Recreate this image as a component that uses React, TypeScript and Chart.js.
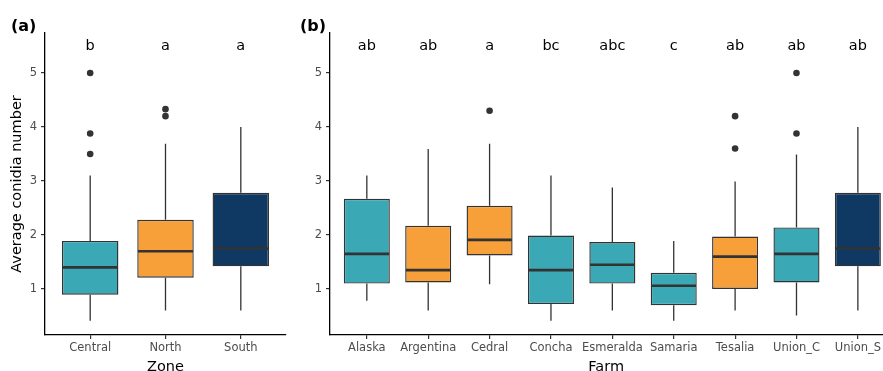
import React, { useEffect, useRef } from 'react';
import { Chart, registerables } from 'chart.js';
Chart.register(...registerables);

const TEAL = '#3AA9B5';
const ORANGE = '#F79F39';
const NAVY = '#0F3962';
const FONT = '"DejaVu Sans", "Liberation Sans", Arial, sans-serif';

// Panel (a): Zone
const zones = ['Central', 'North', 'South'];
const zoneLow = [0.41, 0.6, 0.6];
const zoneQ1 = [0.895, 1.21, 1.42];
const zoneMed = [1.4, 1.7, 1.75];
const zoneQ3 = [1.89, 2.28, 2.78];
const zoneHigh = [3.1, 3.69, 4.0];
const zoneOutliers = [[5.0, 3.88, 3.5], [4.33, 4.2], []];
const zoneLetters = ['b', 'a', 'a'];
const zoneColors = [TEAL, ORANGE, NAVY];

// Panel (b): Farm
const farms = ['Alaska', 'Argentina', 'Cedral', 'Concha', 'Esmeralda', 'Samaria', 'Tesalia', 'Union_C', 'Union_S'];
const farmLow = [0.78, 0.6, 1.09, 0.41, 0.6, 0.41, 0.6, 0.51, 0.6];
const farmQ1 = [1.1, 1.12, 1.62, 0.72, 1.1, 0.7, 1.0, 1.12, 1.42];
const farmMed = [1.65, 1.35, 1.91, 1.35, 1.45, 1.06, 1.6, 1.65, 1.75];
const farmQ3 = [2.67, 2.17, 2.54, 1.99, 1.87, 1.3, 1.97, 2.14, 2.78];
const farmHigh = [3.1, 3.59, 3.69, 3.1, 2.88, 1.89, 2.99, 3.49, 4.0];
const farmOutliers = [[], [], [4.3], [], [], [], [4.2, 3.6], [5.0, 3.88], []];
const farmLetters = ['ab', 'ab', 'a', 'bc', 'abc', 'c', 'ab', 'ab', 'ab'];
const farmColors = [TEAL, ORANGE, ORANGE, TEAL, TEAL, TEAL, ORANGE, TEAL, NAVY];

const yTickValues = [1, 2, 3, 4, 5];
const Y_MIN = 0.148;
const Y_MAX = 5.74;
const LETTER_Y = 5.5;

const CANVAS_H = 380;
const PLOT_TOP = 33;
const PLOT_BOTTOM = 335;

type PanelProps = {
  cats: string[];
  low: number[];
  q1: number[];
  med: number[];
  q3: number[];
  high: number[];
  outliers: number[][];
  letters: string[];
  colors: string[];
  xTitle: string;
  yTitle?: string;
  xMax: number;
  yWidth: number;
  rightPad: number;
  width: number;
};

function Panel(p: PanelProps) {
  const ref = useRef<HTMLCanvasElement | null>(null);
  useEffect(() => {
    if (!ref.current) return;
    const boxPlugin = {
      id: 'boxExtras',
      beforeDatasetsDraw(chart: any) {
        const { ctx, scales } = chart;
        const xs = scales.x, ys = scales.y;
        ctx.save();
        ctx.strokeStyle = '#333333';
        ctx.lineWidth = 1.3;
        p.cats.forEach((_, i) => {
          const x = xs.getPixelForValue(i);
          ctx.beginPath();
          ctx.moveTo(x, ys.getPixelForValue(p.high[i]));
          ctx.lineTo(x, ys.getPixelForValue(p.q3[i]));
          ctx.moveTo(x, ys.getPixelForValue(p.q1[i]));
          ctx.lineTo(x, ys.getPixelForValue(p.low[i]));
          ctx.stroke();
        });
        ctx.restore();
      },
      afterDatasetsDraw(chart: any) {
        const { ctx, scales } = chart;
        const xs = scales.x, ys = scales.y;
        const meta = chart.getDatasetMeta(0);
        ctx.save();
        ctx.strokeStyle = '#333333';
        ctx.lineWidth = 2.6;
        p.cats.forEach((_, i) => {
          const el: any = meta.data[i];
          const half = el.width / 2;
          const y = ys.getPixelForValue(p.med[i]);
          ctx.beginPath();
          ctx.moveTo(el.x - half + 0.7, y);
          ctx.lineTo(el.x + half - 0.7, y);
          ctx.stroke();
        });
        ctx.fillStyle = '#000000';
        ctx.font = `14.5px ${FONT}`;
        ctx.textAlign = 'center';
        ctx.textBaseline = 'middle';
        p.cats.forEach((_, i) => {
          ctx.fillText(p.letters[i], xs.getPixelForValue(i), ys.getPixelForValue(LETTER_Y));
        });
        ctx.restore();
      },
    };

    const tickFont = { size: 11.5, family: FONT };
    const chart = new Chart(ref.current, {
      type: 'bar',
      data: {
        datasets: [
          {
            type: 'bar',
            data: p.cats.map((_, i) => ({ x: i, y: [p.q1[i], p.q3[i]] })) as any,
            backgroundColor: p.colors,
            borderColor: '#333333',
            borderWidth: 1.4,
            borderSkipped: false,
            barPercentage: 0.75,
            categoryPercentage: 1,
            order: 2,
          } as any,
          {
            type: 'scatter',
            data: p.outliers.flatMap((arr, i) => arr.map((v) => ({ x: i, y: v }))),
            pointRadius: 3.3,
            pointBackgroundColor: '#333333',
            pointBorderWidth: 0,
            order: 1,
          } as any,
        ],
      },
      options: {
        animation: false,
        responsive: false,
        maintainAspectRatio: false,
        layout: { autoPadding: false, padding: { top: PLOT_TOP, right: p.rightPad, left: 0, bottom: 0 } } as any,
        plugins: { legend: { display: false }, tooltip: { enabled: false } },
        scales: {
          x: {
            type: 'linear',
            offset: false,
            min: -0.6,
            max: p.xMax,
            afterBuildTicks: (s: any) => {
              s.ticks = p.cats.map((_, i) => ({ value: i }));
            },
            afterFit: (s: any) => {
              s.height = CANVAS_H - PLOT_BOTTOM;
            },
            ticks: {
              autoSkip: false,
              maxRotation: 0,
              color: '#4D4D4D',
              font: tickFont,
              padding: 2,
              callback: (v: any) => p.cats[v as number],
            },
            grid: { offset: false, drawOnChartArea: false, drawTicks: true, tickLength: 4, color: '#333333', lineWidth: 1.2 },
            border: { display: true, color: '#000000', width: 1.3 },
            title: {
              display: true,
              text: p.xTitle,
              color: '#000000',
              font: { size: 14.5, family: FONT, lineHeight: 1 },
              padding: { top: 0, bottom: 5.5 },
            },
          },
          y: {
            type: 'linear',
            min: Y_MIN,
            max: Y_MAX,
            afterBuildTicks: (s: any) => {
              s.ticks = yTickValues.map((v) => ({ value: v }));
            },
            afterFit: (s: any) => {
              s.width = p.yWidth;
            },
            ticks: { color: '#4D4D4D', font: tickFont, padding: 4 },
            grid: { drawOnChartArea: false, drawTicks: true, tickLength: 4, color: '#333333', lineWidth: 1.2 },
            border: { display: true, color: '#000000', width: 1.3 },
            title: {
              display: !!p.yTitle,
              text: p.yTitle || '',
              color: '#000000',
              font: { size: 14.5, family: FONT, lineHeight: 1 },
              padding: { top: 9.5, bottom: 0 },
            },
          },
        },
      } as any,
      plugins: [boxPlugin],
    });
    return () => chart.destroy();
  }, []);
  return <canvas ref={ref} width={p.width} height={CANVAS_H} style={{ width: p.width, height: CANVAS_H, display: 'block' }} />;
}

const labelStyle: React.CSSProperties = {
  position: 'absolute',
  fontFamily: FONT,
  fontWeight: 'bold',
  fontSize: 16,
  color: '#000',
  lineHeight: '16px',
};

export default function App() {
  return (
    <div style={{ position: 'fixed', left: 0, top: 0, width: 883, height: 371, overflow: 'hidden', background: '#fff' }}>
      <div style={{ position: 'absolute', left: 0, top: 0 }}>
        <Panel
          cats={zones}
          low={zoneLow}
          q1={zoneQ1}
          med={zoneMed}
          q3={zoneQ3}
          high={zoneHigh}
          outliers={zoneOutliers}
          letters={zoneLetters}
          colors={zoneColors}
          xTitle="Zone"
          yTitle="Average conidia number"
          xMax={2.6}
          yWidth={45}
          rightPad={4}
          width={290}
        />
      </div>
      <div style={{ position: 'absolute', left: 290, top: 0 }}>
        <Panel
          cats={farms}
          low={farmLow}
          q1={farmQ1}
          med={farmMed}
          q3={farmQ3}
          high={farmHigh}
          outliers={farmOutliers}
          letters={farmLetters}
          colors={farmColors}
          xTitle="Farm"
          xMax={8.4}
          yWidth={40}
          rightPad={0}
          width={593}
        />
      </div>
      <div style={{ ...labelStyle, left: 11, top: 18 }}>(a)</div>
      <div style={{ ...labelStyle, left: 300, top: 18 }}>(b)</div>
    </div>
  );
}
